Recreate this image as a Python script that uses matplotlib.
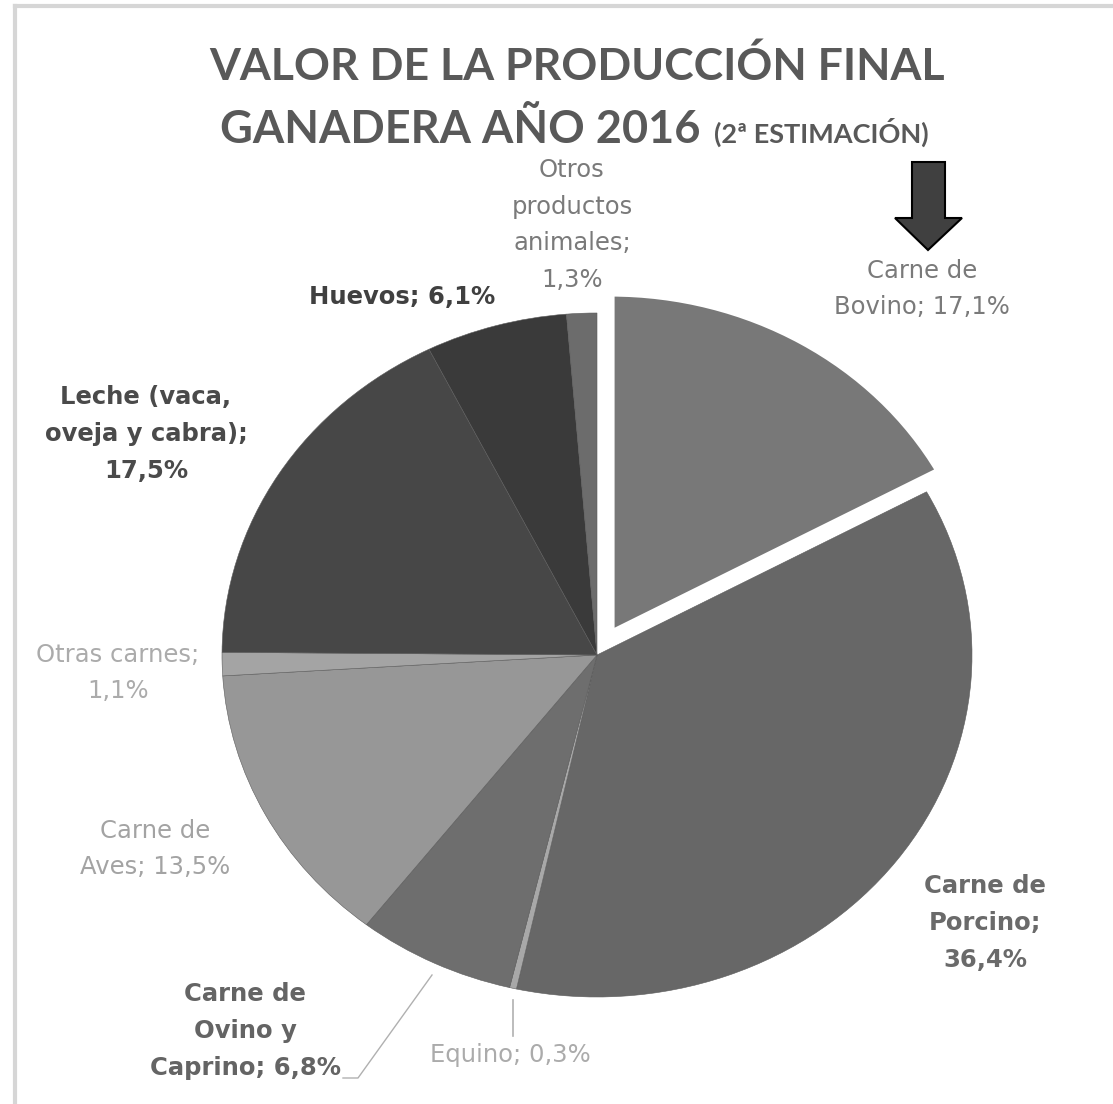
import matplotlib
matplotlib.use("Agg")
import matplotlib.pyplot as plt
from matplotlib.patches import Polygon
from matplotlib.lines import Line2D

W, H = 1113, 1104

# data, clockwise from 12 o'clock
labels = ["Carne de\nBovino; 17,1%", "Carne de\nPorcino;\n36,4%", "Equino; 0,3%",
          "Carne de\nOvino y\nCaprino; 6,8%", "Carne de\nAves; 13,5%",
          "Otras carnes;\n1,1%", "Leche (vaca,\noveja y cabra);\n17,5%",
          "Huevos; 6,1%", "Otros\nproductos\nanimales;\n1,3%"]
shares = [17.1, 36.4, 0.3, 6.8, 13.5, 1.1, 17.5, 6.1, 1.3]
colors = ["#787878", "#676767", "#a8a8a8", "#6e6e6e", "#979797",
          "#a4a4a4", "#474747", "#3a3a3a", "#6c6c6c"]
text_colors = ["#7a7a7a", "#6a6a6a", "#ababab", "#646464", "#a3a3a3",
               "#ababab", "#4a4a4a", "#404040", "#7a7a7a"]
bold = [False, True, False, True, False, False, True, True, False]
explode = [0.07, 0, 0, 0, 0, 0, 0, 0, 0]

# label centres (pixels)
label_pos = [(922, 289), (985, 923), (510, 1055), (245, 1031), (155, 849),
             (118, 673), (146, 434), (402, 297), (572, 225)]

cx, cy, rx, ry = 597, 655, 375, 342


def to_data(px, py):
    return (px - cx) / rx, (cy - py) / ry


def fig_xy(px, py):
    return px / W, 1 - py / H


fig = plt.figure(figsize=(W / 100, H / 100), dpi=100)
ax = fig.add_axes([0, 0, 1, 1])
wedges, _ = ax.pie(shares, colors=colors, startangle=90, counterclock=False,
                   explode=explode,
                   wedgeprops=dict(edgecolor="#5c5c5c", linewidth=0.4))
wedges[0].set_edgecolor("white")
wedges[0].set_linewidth(6)
wedges[0].set_zorder(3)
ax.set_aspect("auto")
ax.set_xlim(-cx / rx, (W - cx) / rx)
ax.set_ylim((cy - H) / ry, cy / ry)
ax.axis("off")

for lab, (px, py), c, b in zip(labels, label_pos, text_colors, bold):
    x, y = to_data(px, py)
    ax.text(x, y, lab, ha="center", va="center", fontsize=17.5, color=c,
            fontweight="bold" if b else "normal", linespacing=1.68,
            family="DejaVu Sans")

# leader lines
lc = "#b0b0b0"
ax.add_line(Line2D(*zip(to_data(432, 975), to_data(358, 1078), to_data(343, 1078)),
                   color=lc, lw=1))
ax.add_line(Line2D(*zip(to_data(513, 1000), to_data(513, 1036)), color=lc, lw=1.2))

# title
tc = "#595959"
fig.text(*fig_xy(577, 80), "VALOR DE LA PRODUCCIÓN FINAL", ha="center", va="baseline",
         fontsize=32, fontweight="bold", color=tc, family="Lato")
t2 = fig.text(*fig_xy(220, 143), "GANADERA AÑO 2016", ha="left", va="baseline",
              fontsize=32.5, fontweight="bold", color=tc, family="Lato")
fig.canvas.draw()
bb = t2.get_window_extent()
fig.text((bb.x1 + 14) / W, 1 - 143 / H, "(2ª ESTIMACIÓN)", ha="left", va="baseline",
         fontsize=19.5, fontweight="bold", color=tc, family="Lato")

# arrow
arrow_px = [(912, 162), (945, 162), (945, 218), (962, 218), (928, 250),
            (895, 218), (912, 218)]
fig.patches.append(Polygon([fig_xy(*p) for p in arrow_px], closed=True,
                           facecolor="#404040", edgecolor="black", lw=1.5,
                           transform=fig.transFigure, figure=fig))

# frame
fig.lines.append(Line2D([15 / W, 1], [1 - 6 / H, 1 - 6 / H], color="#d6d6d6", lw=3,
                        transform=fig.transFigure, figure=fig))
fig.lines.append(Line2D([15 / W, 15 / W], [0, 1 - 6 / H], color="#d6d6d6", lw=3,
                        transform=fig.transFigure, figure=fig))

fig.savefig("out.png", dpi=100)
